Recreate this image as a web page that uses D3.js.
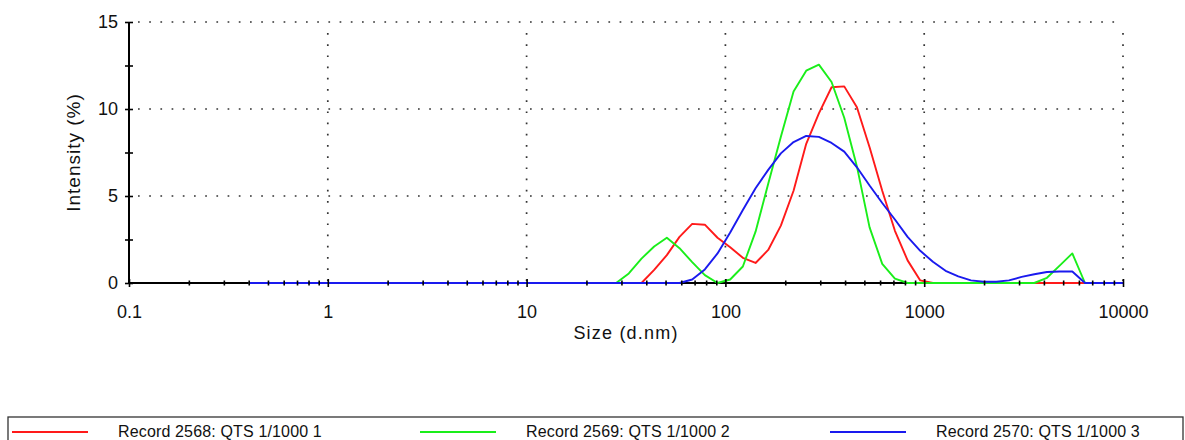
<!DOCTYPE html>
<html>
<head>
<meta charset="utf-8">
<script src="https://cdn.jsdelivr.net/npm/d3@7"></script>
<style>
  body { margin: 0; background: #fff; }
  svg text { font-family: Arial, "Liberation Sans", sans-serif; fill: #111; }
</style>
</head>
<body>
<div id="chart"></div>
<script>
// size classes (d.nm) of the instrument, 70 bins from 0.4 to 10000
var sizes = [0.4, 0.4632, 0.5365, 0.6213, 0.7195, 0.8332, 0.9649, 1.117, 1.294, 1.499,
    1.736, 2.010, 2.328, 2.696, 3.122, 3.615, 4.187, 4.849, 5.615, 6.503,
    7.531, 8.721, 10.10, 11.70, 13.54, 15.69, 18.17, 21.04, 24.36, 28.21,
    32.67, 37.84, 43.82, 50.75, 58.77, 68.06, 78.82, 91.28, 105.7, 122.4,
    141.8, 164.2, 190.1, 220.2, 255.0, 295.3, 342.0, 396.1, 458.7, 531.2,
    615.1, 712.4, 825.0, 955.4, 1106, 1281, 1484, 1718, 1990, 2305,
    2669, 3091, 3580, 4145, 4801, 5560, 6439, 7456, 8635, 10000];

// intensity (%) per bin
var record2568 = [0, 0, 0, 0, 0, 0, 0, 0, 0, 0,
    0, 0, 0, 0, 0, 0, 0, 0, 0, 0,
    0, 0, 0, 0, 0, 0, 0, 0, 0, 0,
    0, 0, 0.75, 1.6, 2.65, 3.4, 3.35, 2.6, 2.05, 1.45,
    1.15, 1.9, 3.3, 5.3, 8.0, 9.75, 11.25, 11.3, 10.1, 7.8,
    5.3, 3.0, 1.3, 0.15, 0, 0, 0, 0, 0, 0,
    0, 0, 0, 0, 0, 0, 0, 0, 0, 0];
var record2569 = [0, 0, 0, 0, 0, 0, 0, 0, 0, 0,
    0, 0, 0, 0, 0, 0, 0, 0, 0, 0,
    0, 0, 0, 0, 0, 0, 0, 0, 0, 0,
    0.55, 1.4, 2.1, 2.6, 2.0, 1.2, 0.45, 0, 0.2, 0.95,
    2.95, 5.7, 8.4, 11.0, 12.2, 12.55, 11.55, 9.5, 6.7, 3.2,
    1.1, 0.25, 0, 0, 0, 0, 0, 0, 0, 0,
    0, 0, 0, 0.3, 1.0, 1.7, 0, 0, 0, 0];
var record2570 = [0, 0, 0, 0, 0, 0, 0, 0, 0, 0,
    0, 0, 0, 0, 0, 0, 0, 0, 0, 0,
    0, 0, 0, 0, 0, 0, 0, 0, 0, 0,
    0, 0, 0, 0, 0, 0.2, 0.78, 1.7, 2.9, 4.2,
    5.45, 6.5, 7.45, 8.1, 8.45, 8.4, 8.05, 7.55, 6.65, 5.6,
    4.6, 3.65, 2.65, 1.85, 1.22, 0.7, 0.38, 0.15, 0.07, 0.07,
    0.15, 0.35, 0.5, 0.63, 0.66, 0.66, 0, 0, 0, 0];

var seriesNames = ["Record 2568: QTS 1/1000 1", "Record 2569: QTS 1/1000 2", "Record 2570: QTS 1/1000 3"];
var seriesColors = ["#ff1a1a", "#1aee1a", "#1a1aee"];
var seriesValues = [record2568, record2569, record2570];

var xMajorTicks = [0.1, 1, 10, 100, 1000, 10000];
var xTickLabels = ["0.1", "1", "10", "100", "1000", "10000"];
var yMajorTicks = [0, 5, 10, 15];
var yMinorTicks = [2.5, 7.5, 12.5];

var width = 1185, height = 440;
var plotLeft = 129, plotRight = 1123, plotTop = 22, plotBottom = 283;

var svg = d3.select("#chart").append("svg")
    .attr("width", width)
    .attr("height", height);

var x = d3.scaleLog().domain([0.1, 10000]).range([plotLeft, plotRight]);
var y = d3.scaleLinear().domain([0, 15]).range([plotBottom, plotTop]);

// minor log ticks 2..9 of every decade
var xMinorTicks = [];
xMajorTicks.slice(0, -1).forEach(function(d){
    for(let k = 2; k < 10; k++) xMinorTicks.push(d * k);
});

// dotted grid
var grid = svg.append("g").attr("class", "grid")
    .attr("stroke", "#333")
    .attr("stroke-width", 1.7)
    .attr("stroke-dasharray", "1.7,9.5");
grid.selectAll(".hgrid")
    .data(yMajorTicks.slice(1))
    .enter().append("line")
    .attr("x1", plotLeft + 9).attr("x2", plotRight)
    .attr("y1", d => y(d)).attr("y2", d => y(d));
grid.selectAll(".vgrid")
    .data(xMajorTicks.slice(1))
    .enter().append("line")
    .attr("x1", d => x(d)).attr("x2", d => x(d))
    .attr("y1", plotTop + 11).attr("y2", plotBottom);

// axis lines (under the curves)
svg.append("line")
    .attr("x1", plotLeft).attr("x2", plotRight)
    .attr("y1", y(0)).attr("y2", y(0))
    .attr("stroke", "#000").attr("stroke-width", 2);
svg.append("line")
    .attr("x1", plotLeft).attr("x2", plotLeft)
    .attr("y1", y(0)).attr("y2", y(15))
    .attr("stroke", "#000").attr("stroke-width", 2);

// curves
var line = d3.line()
    .x(d => x(d[0]))
    .y(d => y(d[1]));

svg.append("g").attr("class", "curves")
    .selectAll("path")
    .data(seriesValues)
    .enter().append("path")
    .attr("fill", "none")
    .attr("stroke", (d, i) => seriesColors[i])
    .attr("stroke-width", 1.9)
    .attr("stroke-linejoin", "round")
    .attr("d", d => line(sizes.map((s, i) => [s, d[i]])));

// ticks on top of curves
var xAxis = d3.axisBottom(x)
    .tickValues(xMajorTicks)
    .tickSize(4)
    .tickPadding(18)
    .tickFormat((d, i) => xTickLabels[i]);
var gx = svg.append("g")
    .attr("transform", "translate(0," + y(0) + ")")
    .call(xAxis);
gx.select(".domain").remove();
gx.selectAll(".tick line").attr("y1", -4).attr("stroke-width", 1.6);
gx.selectAll(".tick text").attr("font-size", 18).attr("fill", "#111");

var gxm = svg.append("g")
    .attr("transform", "translate(0," + y(0) + ")")
    .call(d3.axisBottom(x).tickValues(xMinorTicks).tickSize(2.5).tickFormat(""));
gxm.select(".domain").remove();
gxm.selectAll(".tick line").attr("y1", -2.5).attr("stroke-width", 1.6);

var yAxis = d3.axisLeft(y)
    .tickValues(yMajorTicks)
    .tickSize(4)
    .tickPadding(7)
    .tickFormat(d3.format("d"));
var gy = svg.append("g")
    .attr("transform", "translate(" + plotLeft + ",0)")
    .call(yAxis);
gy.select(".domain").remove();
gy.selectAll(".tick line").attr("x1", 4).attr("stroke-width", 1.6);
gy.selectAll(".tick text").attr("font-size", 18).attr("fill", "#111");

var gym = svg.append("g")
    .attr("transform", "translate(" + plotLeft + ",0)")
    .call(d3.axisLeft(y).tickValues(yMinorTicks).tickSize(4).tickFormat(""));
gym.select(".domain").remove();
gym.selectAll(".tick line").attr("x1", 4).attr("stroke-width", 1.6);

// axis titles
svg.append("text")
    .attr("x", (plotLeft + plotRight) / 2)
    .attr("y", 339)
    .attr("text-anchor", "middle")
    .attr("font-size", 18)
    .attr("letter-spacing", 1.2)
    .text("Size (d.nm)");

svg.append("text")
    .attr("transform", "translate(80," + ((plotTop + plotBottom) / 2) + ") rotate(-90)")
    .attr("text-anchor", "middle")
    .attr("font-size", 19)
    .attr("letter-spacing", 1)
    .text("Intensity (%)");

// legend
var legendX = [12, 420, 830];
var legend = svg.append("g").attr("class", "legend");
legend.append("rect")
    .attr("x", 8).attr("y", 417)
    .attr("width", 1175).attr("height", 40)
    .attr("fill", "none")
    .attr("stroke", "#333")
    .attr("stroke-width", 1.3);
var items = legend.selectAll(".item")
    .data(seriesNames)
    .enter().append("g")
    .attr("class", "item")
    .attr("transform", (d, i) => "translate(" + legendX[i] + ",432)");
items.append("line")
    .attr("x1", 0).attr("x2", 76)
    .attr("stroke", (d, i) => seriesColors[i])
    .attr("stroke-width", 2);
items.append("text")
    .attr("x", 106)
    .attr("y", 5)
    .attr("font-size", 16)
    .attr("letter-spacing", 0.15)
    .text(d => d);
</script>
</body>
</html>
